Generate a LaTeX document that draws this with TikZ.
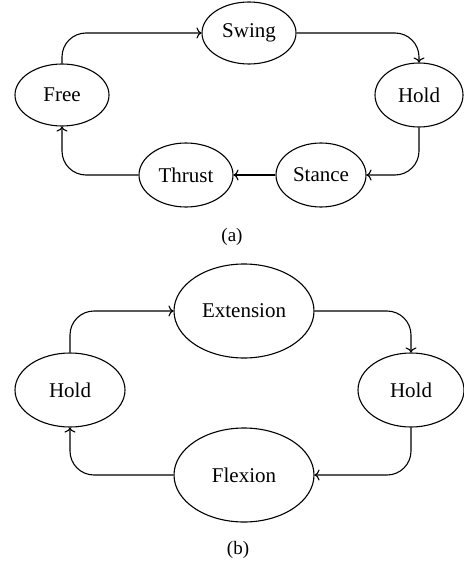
\documentclass[tikz,border=0pt]{standalone}
\usepackage{fontspec}
\setmainfont{Liberation Serif}
\usetikzlibrary{shapes.geometric,arrows.meta}
\begin{document}
\begin{tikzpicture}[x=1pt,y=-1pt,
  state/.style={draw, ellipse, line width=1.1pt, inner sep=0pt, font=\fontsize{21}{25}\selectfont},
  conn/.style={-{To[length=5pt,width=11pt]}, line width=1.1pt, rounded corners=24pt},
  sublabel/.style={font=\fontsize{19}{22}\selectfont}]
\useasboundingbox (0,0) rectangle (463,567);
% (a)
\node[state, minimum width=94pt, minimum height=62pt] (swing) at (249,33) {Swing};
\node[state, minimum width=94pt, minimum height=62pt] (free) at (62,95) {Free};
\node[state, minimum width=88pt, minimum height=64pt] (holda) at (419,95) {Hold};
\node[state, minimum width=94pt, minimum height=64pt] (thrust) at (186,175) {Thrust};
\node[state, minimum width=90pt, minimum height=64pt] (stance) at (321,175) {Stance};
\node[sublabel] (la) at (232,237) {(a)};
\draw[conn] (free.north) |- (swing.west);
\draw[conn] (swing.east) -| (holda.north);
\draw[conn] (holda.south) |- (stance.east);
\draw[conn] (stance.west) -- (thrust.east);
\draw[conn] (thrust.west) -| (free.south);
% (b)
\node[state, minimum width=140pt, minimum height=94pt] (ext) at (244,311) {Extension};
\node[state, minimum width=110pt, minimum height=74pt] (holdl) at (70,390) {Hold};
\node[state, minimum width=106pt, minimum height=74pt] (holdr) at (411,390) {Hold};
\node[state, minimum width=140pt, minimum height=94pt] (flex) at (244,475) {Flexion};
\node[sublabel] (lb) at (238,550) {(b)};
\draw[conn] (holdl.north) |- (ext.west);
\draw[conn] (ext.east) -| (holdr.north);
\draw[conn] (holdr.south) |- (flex.east);
\draw[conn] (flex.west) -| (holdl.south);
\end{tikzpicture}
\end{document}
